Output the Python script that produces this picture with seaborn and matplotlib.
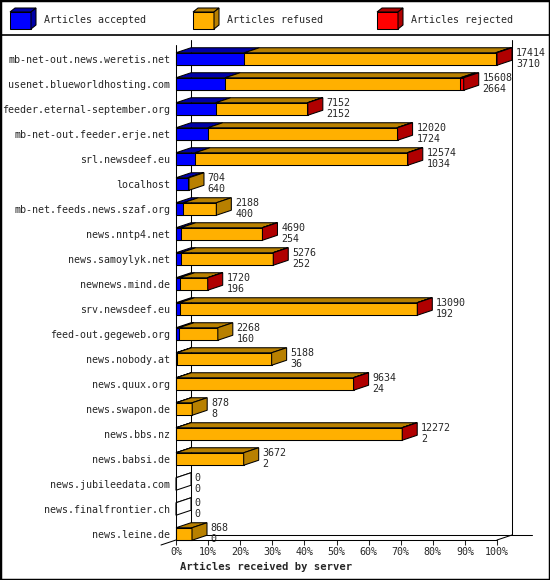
import pandas as pd
import seaborn as sns
import matplotlib.pyplot as plt
from matplotlib.patches import Polygon, Rectangle
from matplotlib.lines import Line2D

# Data
servers = ['mb-net-out.news.weretis.net', 'usenet.blueworldhosting.com',
           'feeder.eternal-september.org', 'mb-net-out.feeder.erje.net',
           'srl.newsdeef.eu', 'localhost', 'mb-net.feeds.news.szaf.org',
           'news.nntp4.net', 'news.samoylyk.net', 'newnews.mind.de',
           'srv.newsdeef.eu', 'feed-out.gegeweb.org', 'news.nobody.at',
           'news.quux.org', 'news.swapon.de', 'news.bbs.nz', 'news.babsi.de',
           'news.jubileedata.com', 'news.finalfrontier.ch', 'news.leine.de']
total = [17414, 15608, 7152, 12020, 12574, 704, 2188, 4690, 5276, 1720,
         13090, 2268, 5188, 9634, 878, 12272, 3672, 0, 0, 868]
accepted = [3710, 2664, 2152, 1724, 1034, 640, 400, 254, 252, 196,
            192, 160, 36, 24, 8, 2, 2, 0, 0, 0]
rejected = [70, 180, 20, 40, 30, 0, 0, 20, 20, 10,
            20, 0, 0, 20, 0, 20, 0, 0, 0, 0]
legend_labels = ['Articles accepted', 'Articles refused', 'Articles rejected']

blue, blue_dk = '#0000ff', '#0000a8'
orange, orange_dk = '#ffb000', '#b88000'
red, red_dk = '#ff0000', '#b00000'

sns.set_style('white')
plt.rcParams['font.family'] = ['DejaVu Sans Mono']

df = pd.DataFrame({'server': servers, 'total': total,
                   'accepted': accepted, 'rejected': rejected})
df['refused'] = df['total'] - df['accepted'] - df['rejected']
scale = 100 / df['total'].max()
df['acc_pct'] = df['accepted'] * scale
df['ref_pct'] = (df['accepted'] + df['refused']) * scale
df['tot_pct'] = df['total'] * scale

W, H = 550, 580
fig = plt.figure(figsize=(W / 100, H / 100), dpi=100)
ax = fig.add_axes([176 / W, 40 / H, 321 / W, 500 / H])

dx = 15 / 3.21   # depth in percent
dy = 0.2         # depth in rows
bh = 0.5         # front face height
lw = 0.75

# back walls (behind bars)
ytop, yfloor, yfront = -0.76, 19.04, 19.24
ax.plot([dx, dx], [ytop, yfloor], color='black', lw=lw, zorder=0, clip_on=False)
ax.plot([100 + dx, 100 + dx], [ytop, yfloor], color='black', lw=lw, zorder=0, clip_on=False)
ax.plot([dx, 111], [yfloor, yfloor], color='black', lw=lw, zorder=0, clip_on=False)

# front faces, stacked
for col, colr in [('tot_pct', red), ('ref_pct', orange), ('acc_pct', blue)]:
    sns.barplot(data=df, x=col, y='server', color=colr, saturation=1,
                width=bh, edgecolor='black', linewidth=lw, errorbar=None,
                orient='h', ax=ax)
for p in ax.patches:
    p.set_clip_on(False)

# top and side faces
for i, r in df.iterrows():
    yt, yb = i - bh / 2, i + bh / 2
    segs = [(0, r['acc_pct'], blue_dk), (r['acc_pct'], r['ref_pct'], orange_dk),
            (r['ref_pct'], r['tot_pct'], red_dk)]
    side = 'white'
    for x0, x1, c in segs:
        if x1 - x0 > 0:
            ax.add_patch(Polygon([(x0, yt), (x1, yt), (x1 + dx, yt - dy), (x0 + dx, yt - dy)],
                                 closed=True, fc=c, ec='black', lw=lw, zorder=3,
                                 clip_on=False))
            side = c
    if r['total'] == 0:
        ax.add_patch(Polygon([(0, yt), (dx, yt - dy)], closed=False, fill=False,
                             ec='black', lw=lw, zorder=3, clip_on=False))
    t = r['tot_pct']
    ax.add_patch(Polygon([(t, yt), (t, yb), (t + dx, yb - dy), (t + dx, yt - dy)],
                         closed=True, fc=side, ec='black', lw=lw, zorder=3,
                         clip_on=False))
    ax.text(t + dx + 1.2, i - 0.24, str(r['total']), va='center', ha='left',
            fontsize=7.2, clip_on=False)
    ax.text(t + dx + 1.2, i + 0.2, str(r['accepted']), va='center', ha='left',
            fontsize=7.2, clip_on=False)

# front frame lines
ax.plot([0, 0], [-0.56, yfront], color='black', lw=lw, zorder=4, clip_on=False)
ax.plot([0, 100], [yfront, yfront], color='black', lw=lw, zorder=4, clip_on=False)
ax.plot([100, 100 + dx], [yfront, yfloor], color='black', lw=lw, zorder=4, clip_on=False)
ax.plot([0, -dx], [yfront, yfront + dy], color='black', lw=lw, zorder=4, clip_on=False)

ax.set_xlim(0, 100)
ax.set_ylim(yfront, ytop)
ax.set_xticks(range(0, 101, 10))
ax.set_xticklabels([f'{t}%' for t in range(0, 101, 10)], fontsize=7.2)
ax.set_yticks(range(len(servers)))
ax.set_yticklabels(servers, fontsize=7.2)
ax.tick_params(axis='x', bottom=True, direction='out', length=3.6, width=lw, pad=1.5)
ax.tick_params(axis='y', left=False, pad=0.5)
ax.set_xlabel('')
ax.set_ylabel('')
for s in ax.spines.values():
    s.set_visible(False)
ax.patch.set_alpha(0)

fig.text(180 / W, 1 - 567 / H, 'Articles received by server', fontsize=7.6,
         fontweight='bold', ha='left', va='center')

# legend strip
lax = fig.add_axes([0, 1 - 35 / H, 1, 35 / H])
lax.set_xlim(0, W)
lax.set_ylim(35, 0)
lax.axis('off')
for x0, lab, c, cd in zip([10, 193, 377], legend_labels,
                          [blue, orange, red], [blue_dk, orange_dk, red_dk]):
    lax.add_patch(Rectangle((x0, 12), 21, 17, fc=c, ec='black', lw=lw))
    lax.add_patch(Polygon([(x0, 12), (x0 + 21, 12), (x0 + 26, 8), (x0 + 5, 8)],
                          closed=True, fc=cd, ec='black', lw=lw))
    lax.add_patch(Polygon([(x0 + 21, 12), (x0 + 21, 29), (x0 + 26, 25), (x0 + 26, 8)],
                          closed=True, fc=cd, ec='black', lw=lw))
    lax.text(x0 + 34, 20, lab, fontsize=7.2, va='center', ha='left')

fig.add_artist(Line2D([0, 1], [1 - 35 / H] * 2, color='black', lw=1.2))
fig.add_artist(Rectangle((0, 0), 1, 1, transform=fig.transFigure, fill=False,
                         ec='black', lw=2.5))

fig.savefig('out.png', dpi=100)
